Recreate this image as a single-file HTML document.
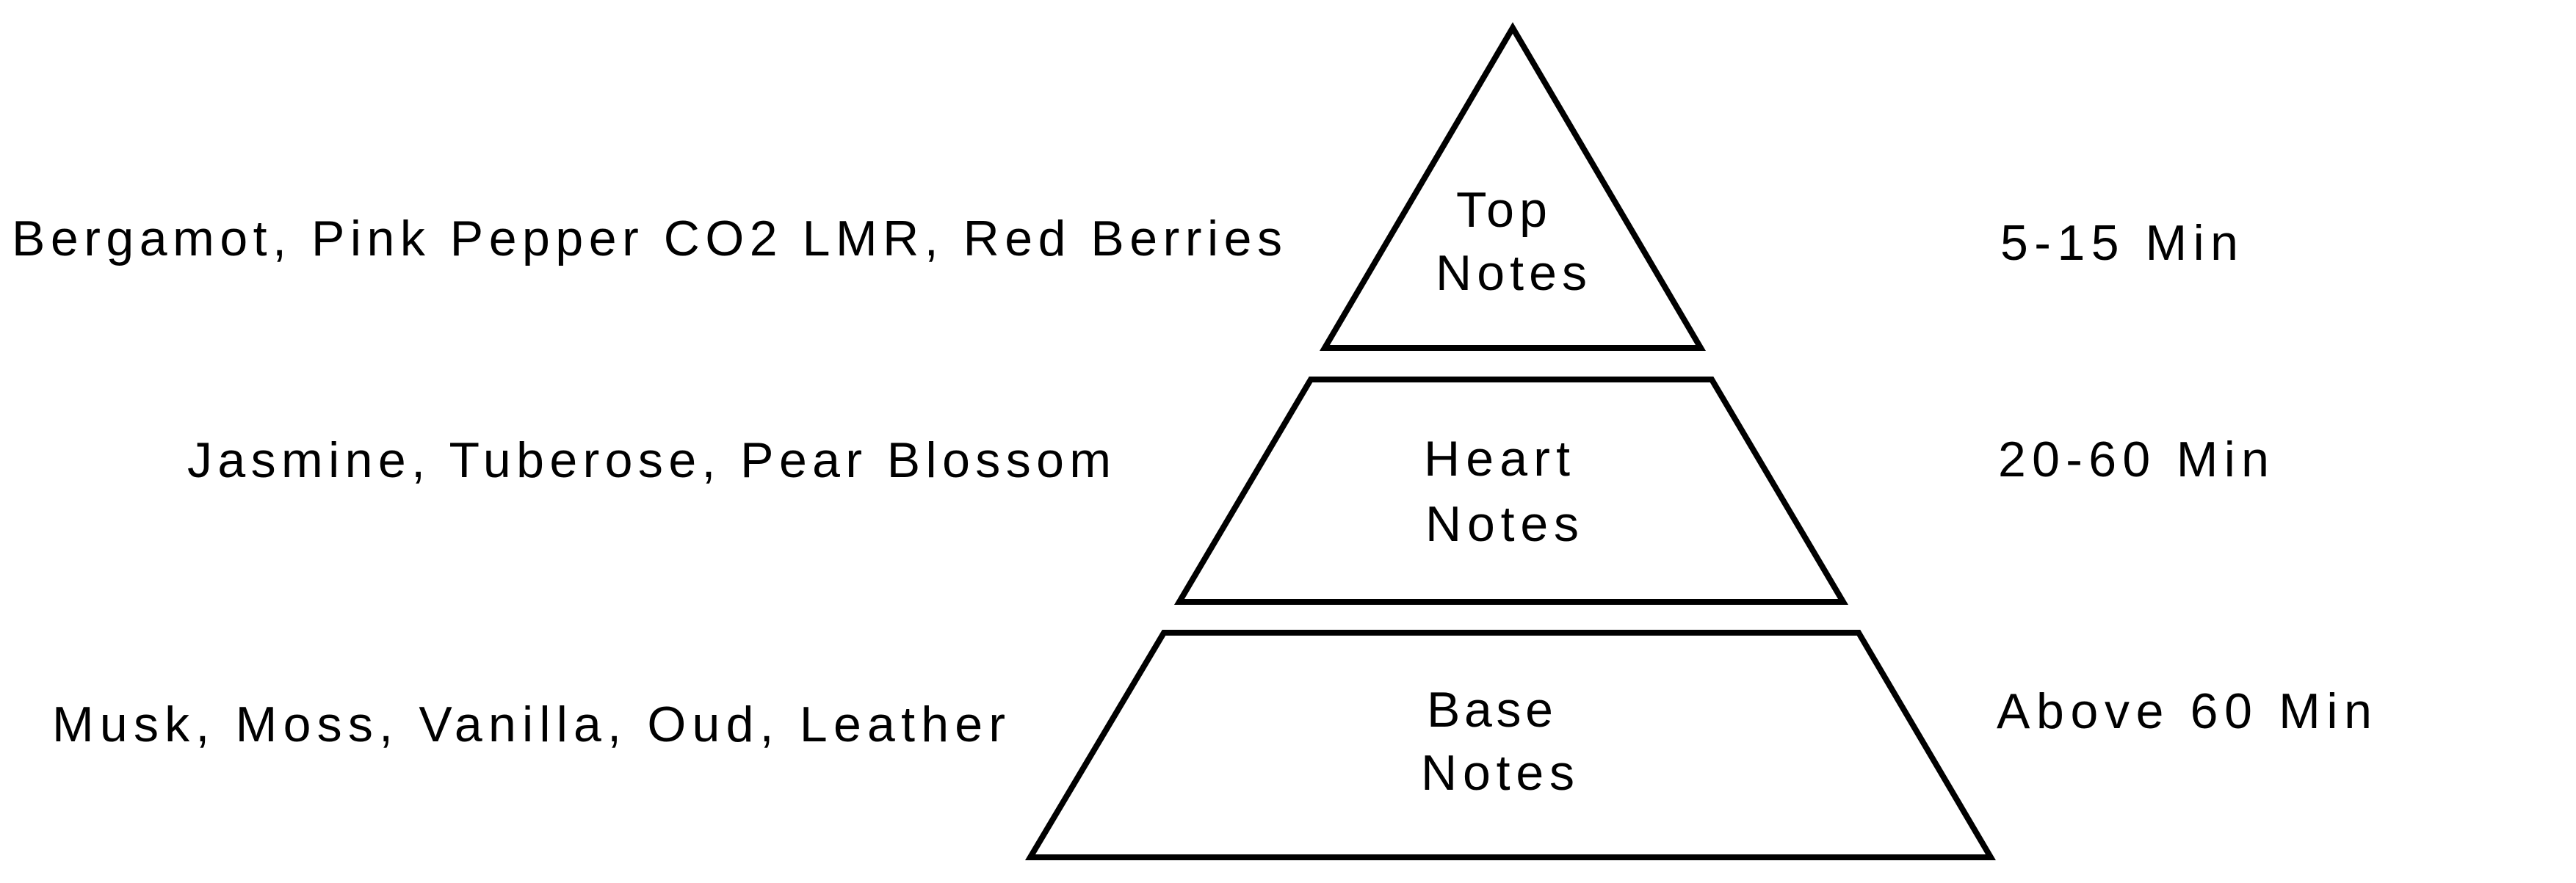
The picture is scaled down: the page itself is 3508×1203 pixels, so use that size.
<!DOCTYPE html>
<html><head><meta charset="utf-8"><style>html,body{margin:0;padding:0;background:#fff}svg{display:block}</style></head>
<body>
<svg width="3508" height="1203" viewBox="0 0 3508 1203" xmlns="http://www.w3.org/2000/svg">
<g fill="none" stroke="#000" stroke-width="8" stroke-linejoin="miter">
<polygon points="2060,38 2316,474 1804,474"/>
<polygon points="1785,517 2331,517 2510,820 1606,820"/>
<polygon points="1585,862 2531,862 2711,1168 1403,1168"/>
</g>
<g font-family="Liberation Sans, sans-serif" font-size="68" fill="#000">
<text x="16" y="348" textLength="1730" lengthAdjust="spacing">Bergamot, Pink Pepper CO2 LMR, Red Berries</text>
<text x="255" y="650" textLength="1258" lengthAdjust="spacing">Jasmine, Tuberose, Pear Blossom</text>
<text x="71" y="1010" textLength="1298" lengthAdjust="spacing">Musk, Moss, Vanilla, Oud, Leather</text>
<text x="2724" y="354" textLength="324" lengthAdjust="spacing">5-15 Min</text>
<text x="2721" y="649" textLength="369" lengthAdjust="spacing">20-60 Min</text>
<text x="2719" y="992" textLength="511" lengthAdjust="spacing">Above 60 Min</text>
<text x="1983" y="309" textLength="124" lengthAdjust="spacing">Top</text>
<text x="1955" y="395" textLength="206" lengthAdjust="spacing">Notes</text>
<text x="1939" y="648" textLength="199" lengthAdjust="spacing">Heart</text>
<text x="1941" y="737" textLength="209" lengthAdjust="spacing">Notes</text>
<text x="1943" y="990" textLength="172" lengthAdjust="spacing">Base</text>
<text x="1935" y="1076" textLength="209" lengthAdjust="spacing">Notes</text>
</g>
</svg>
</body></html>
